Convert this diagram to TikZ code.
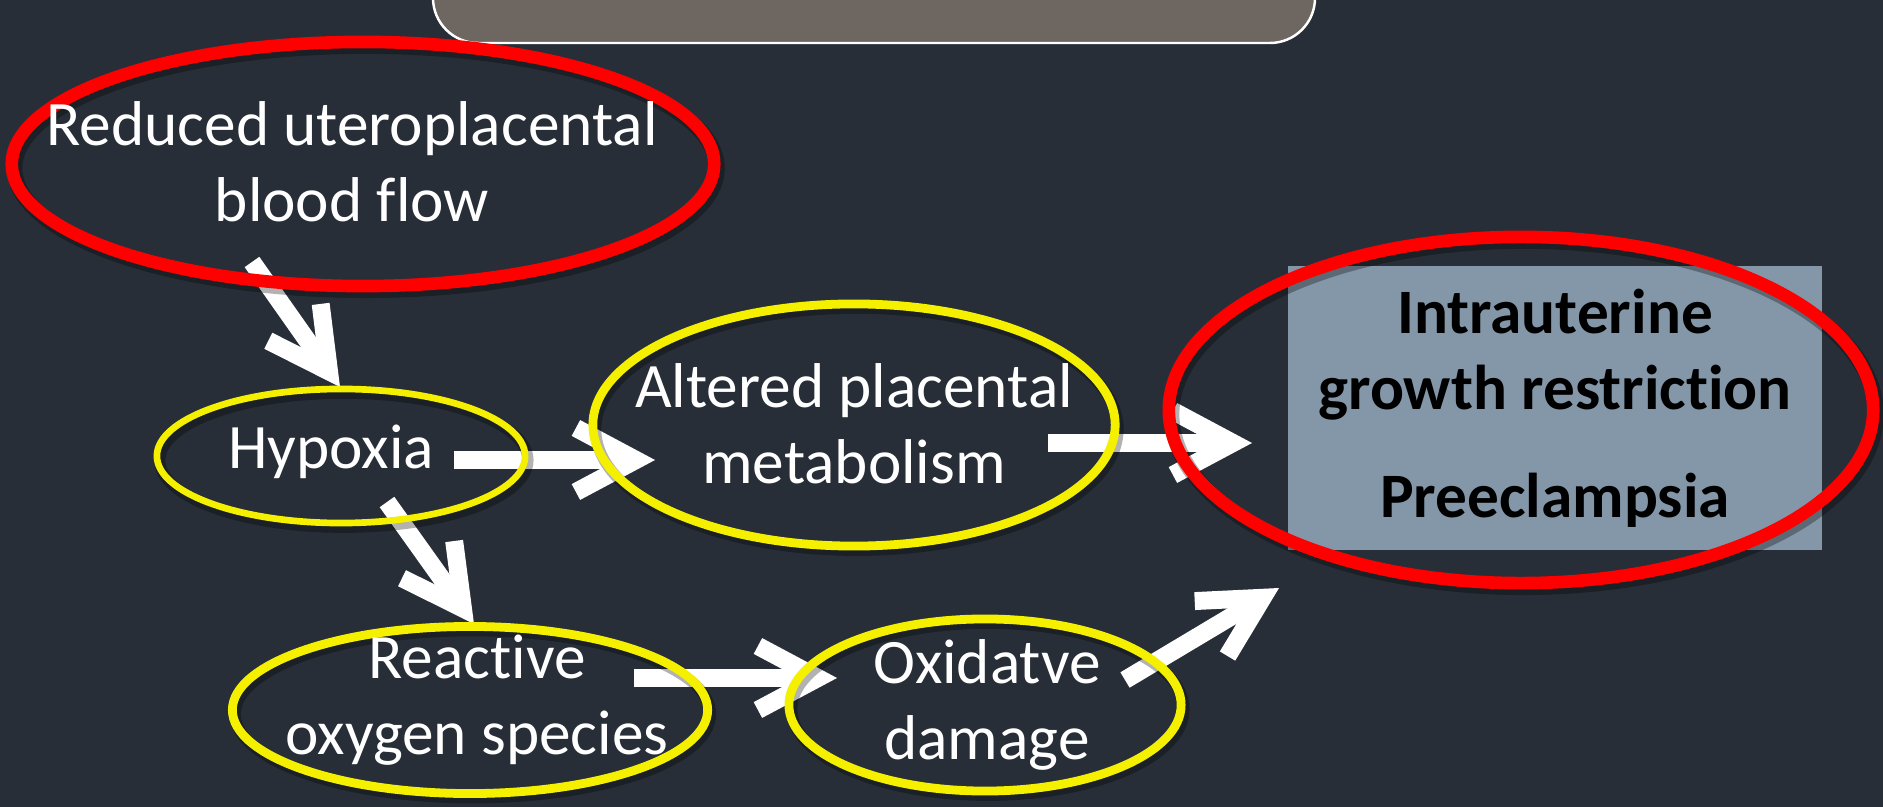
\documentclass[tikz,border=0pt]{standalone}
\usepackage{fontspec}
\setmainfont{Carlito}[Ligatures=NoCommon]
\usetikzlibrary{arrows.meta}
\usetikzlibrary{shapes.geometric}

\definecolor{slidebg}{HTML}{272E37}
\definecolor{titlebox}{HTML}{6E6761}
\definecolor{outcomebox}{HTML}{8497A9}
\definecolor{ringred}{HTML}{FF0000}
\definecolor{ringyellow}{HTML}{F4F000}

\begin{document}
\begin{tikzpicture}[x=0.01cm, y=-0.01cm]

	\tikzset{ringshadow/.style={preaction={draw=black, opacity=0.3, line width=#1, transform canvas={xshift=0.8pt, yshift=-1.2pt}}}}
	\tikzset{redring/.style={ellipse, draw=ringred, line width=3.6pt, inner sep=0pt, ringshadow=4.4pt}}
	\tikzset{yellowring/.style={ellipse, draw=ringyellow, line width=2.5pt, inner sep=0pt, ringshadow=3.2pt}}
	\tikzset{whitetext/.style={text=white, align=center, inner sep=0pt, font=\fontsize{18}{21.5}\selectfont}}
	\tikzset{whitearrow/.style={-{Straight Barb[length=0.6cm, width=0.64cm]}, white, line width=5.1pt}}

	% Canvas
	\useasboundingbox (0,0) rectangle (1883,807);
	\clip (0,0) rectangle (1883,807);
	\fill[slidebg] (0,0) rectangle (1883,807);

	%title box, cut off at the top
	\draw[fill=titlebox, draw=white, line width=0.7pt, rounded corners=0.45cm] (433,-60) rectangle (1315,43);

	%outcome box
	\node[fill=outcomebox, minimum width=5.33cm, minimum height=2.83cm, inner sep=0pt,
		align=center, font=\fontsize{18}{21.6}\selectfont\bfseries] (out) at (1555,408)
		{Intrauterine\\growth restriction\\[9pt]Preeclampsia};

	% Arrow ends
	\coordinate (rbfS) at (252,262);
	\coordinate (hypN) at (340,387);
	\coordinate (hypE) at (454,460);
	\coordinate (altW) at (655,460);
	\coordinate (hypS) at (387,502);
	\coordinate (rosN) at (474,624);
	\coordinate (rosE) at (634,678);
	\coordinate (oxdW) at (837,678);
	\coordinate (altE) at (1048,443);
	\coordinate (outW) at (1252,443);
	\coordinate (oxdE) at (1125,680);
	\coordinate (outS) at (1279,588);

	\draw[whitearrow] (rbfS) -- (hypN);
	\draw[whitearrow] (hypE) -- (altW);
	\draw[whitearrow] (hypS) -- (rosN);
	\draw[whitearrow] (rosE) -- (oxdW);
	\draw[whitearrow] (altE) -- (outW);
	\draw[whitearrow] (oxdE) -- (outS);

	% Rings
	\node[redring, minimum width=7.02cm, minimum height=2.44cm] (rbfring) at (363,164) {};
	\node[yellowring, line width=1.9pt, minimum width=3.68cm, minimum height=1.34cm] (hypring) at (341,456) {};
	\node[yellowring, minimum width=5.22cm, minimum height=2.42cm] (altring) at (854,425) {};
	\node[redring, minimum width=7.04cm, minimum height=3.46cm] (outring) at (1521,410) {};
	\node[yellowring, minimum width=4.75cm, minimum height=1.67cm] (rosring) at (470,710) {};
	\node[yellowring, minimum width=3.92cm, minimum height=1.72cm] (oxdring) at (985,705) {};

	% Labels
	\node[whitetext] (rbf) at (352,162) {Reduced uteroplacental\\blood flow};
	\node[whitetext] (hyp) at (331,452) {Hypoxia};
	\node[whitetext] (alt) at (854,424) {Altered placental\\metabolism};
	\node[whitetext] (ros) at (477,700) {Reactive\\oxygen species};
	\node[whitetext] (oxd) at (987,705) {Oxidatve\\damage};

\end{tikzpicture}
\end{document}
